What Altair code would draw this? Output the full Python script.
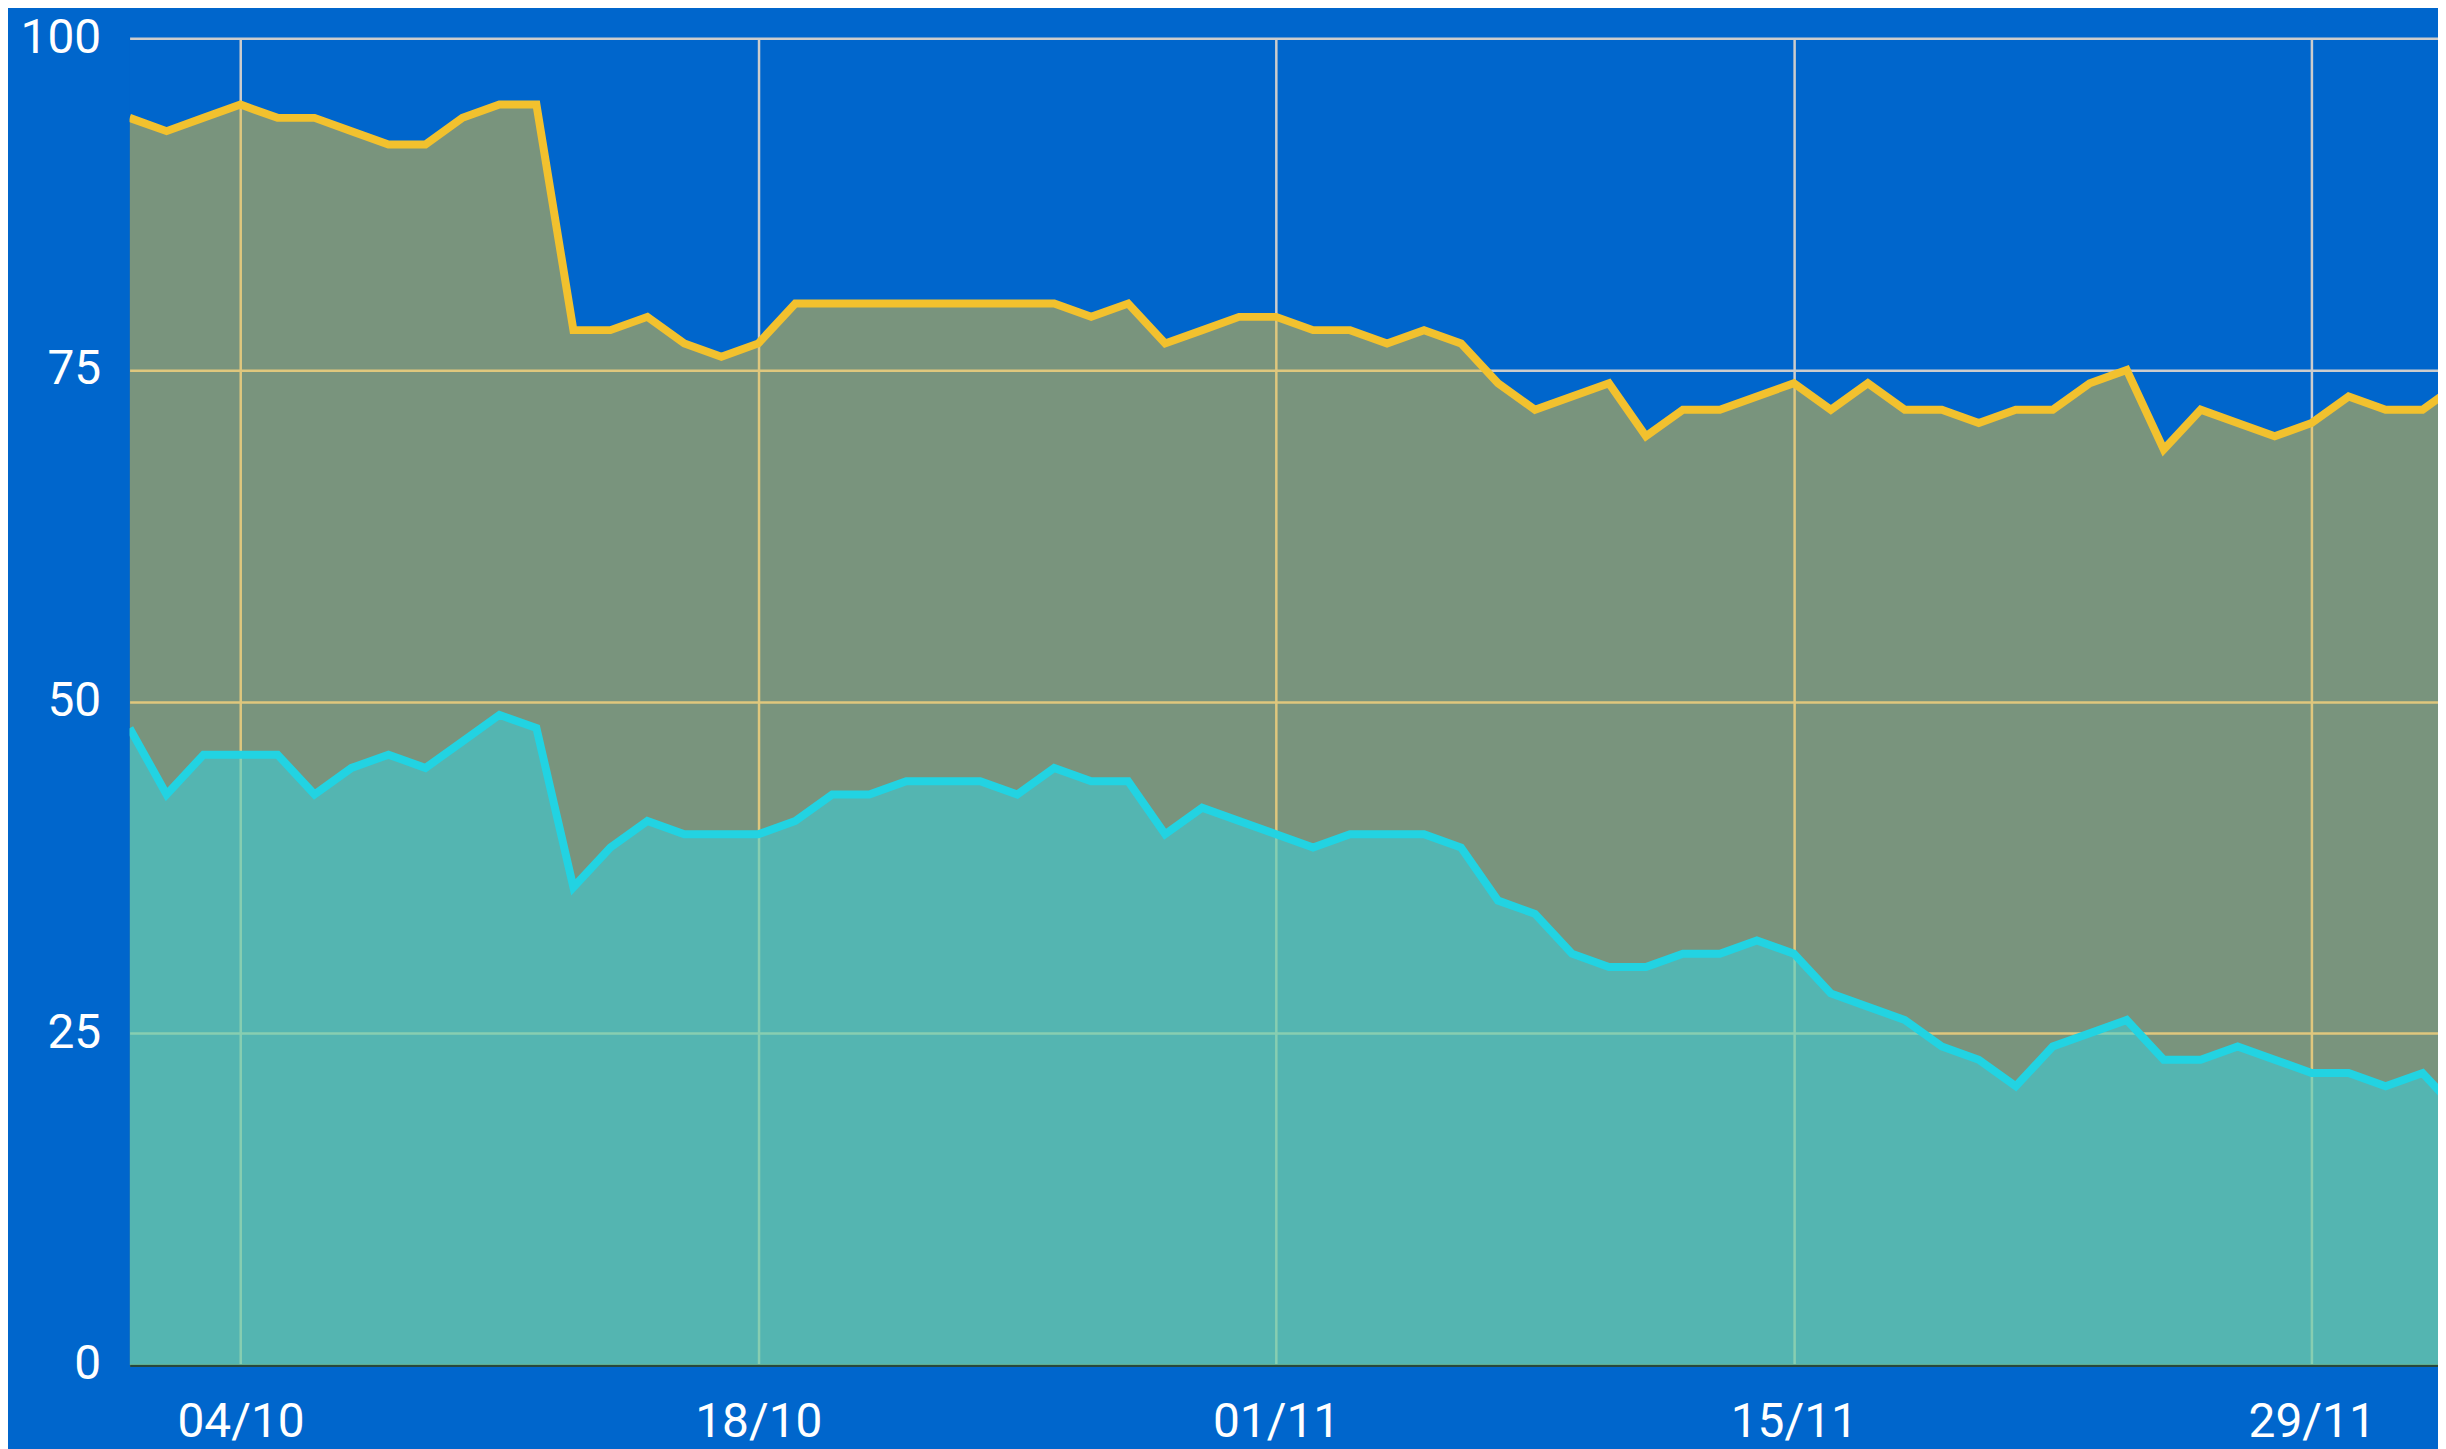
import altair as alt
import pandas as pd

start = "2023-10-01"
upper = [94, 93, 94, 95, 94, 94, 93, 92, 92, 94, 95, 95, 78, 78, 79, 77,
         76, 77, 80, 80, 80, 80, 80, 80, 80, 80, 79, 80, 77, 78, 79, 79,
         78, 78, 77, 78, 77, 74, 72, 73, 74, 70, 72, 72, 73, 74, 72, 74,
         72, 72, 71, 72, 72, 74, 75, 69, 72, 71, 70, 71, 73, 72, 72, 74]
lower = [48, 43, 46, 46, 46, 43, 45, 46, 45, 47, 49, 48, 36, 39, 41, 40,
         40, 40, 41, 43, 43, 44, 44, 44, 43, 45, 44, 44, 40, 42, 41, 40,
         39, 40, 40, 40, 39, 35, 34, 31, 30, 30, 31, 31, 32, 31, 28, 27,
         26, 24, 23, 21, 24, 25, 26, 23, 23, 24, 23, 22, 22, 21, 22, 19]
tick_dates = [(2023, 10, 4), (2023, 10, 18), (2023, 11, 1), (2023, 11, 15), (2023, 11, 29)]
y_ticks = [0, 25, 50, 75, 100]

dates = pd.date_range(start, periods=len(upper), freq="D").strftime("%Y-%m-%dT%H:%M:%S")
df = pd.DataFrame({"date": dates, "upper": upper, "lower": lower})

BG = "#0066CC"
YEL = "#F2C12E"
CYAN_LINE = "#22D3E2"
CYAN_FILL = "#2FD6E5"

xscale = alt.Scale(domain=[alt.DateTime(year=2023, month=10, date=1),
                           alt.DateTime(year=2023, month=12, date=2, hours=10)])
xaxis = alt.Axis(values=[alt.DateTime(year=y, month=m, date=d) for (y, m, d) in tick_dates],
                 format="%d/%m", title=None, ticks=False, tickSize=0,
                 labelBaseline="alphabetic", labelPadding=72,
                 domain=True, domainColor="#27483e", domainWidth=3)
yaxis = alt.Axis(values=y_ticks, title=None, ticks=False, tickSize=0,
                 labelPadding=29, domain=False)

x = alt.X("date:T", scale=xscale, axis=xaxis)
yscale = alt.Scale(domain=[0, 100], nice=False)

base = alt.Chart(df)
area_top = base.mark_area(color=YEL, fillOpacity=0.5, clip=True).encode(
    x=x, y=alt.Y("upper:Q", scale=yscale, axis=yaxis))
area_low = base.mark_area(color=CYAN_FILL, fillOpacity=0.5, clip=True).encode(
    x=x, y=alt.Y("lower:Q", scale=yscale))
line_top = base.mark_line(color=YEL, strokeWidth=8, clip=True).encode(
    x=x, y=alt.Y("upper:Q", scale=yscale))
line_low = base.mark_line(color=CYAN_LINE, strokeWidth=8, clip=True).encode(
    x=x, y=alt.Y("lower:Q", scale=yscale))

chart = alt.layer(area_top, area_low, line_top, line_low).properties(
    width=2316, height=1331,
    padding={"left": 122, "top": 28, "right": 0, "bottom": 82},
    autosize=alt.AutoSizeParams(type="none"),
    background=BG,
).configure_view(strokeWidth=0, fill=BG).configure_axis(
    grid=True, gridColor="#cccccc", gridWidth=2.5,
    labelColor="white", labelFont="Roboto", labelFontSize=48,
)

chart.save("out.html", embed_options={"renderer": "svg", "actions": False})
